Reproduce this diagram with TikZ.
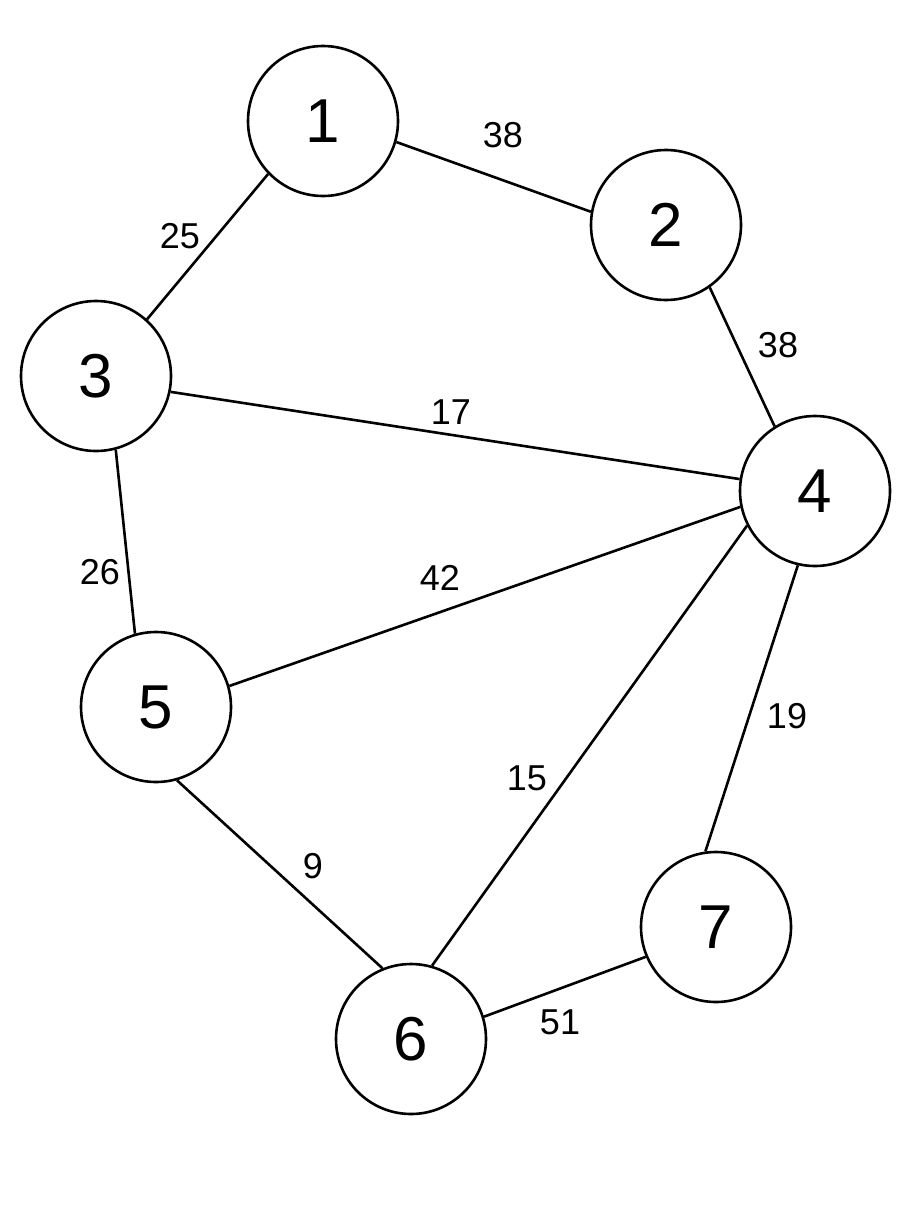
\documentclass[tikz,border=0pt]{standalone}
\usepackage{fontspec}
\setmainfont{Liberation Sans}
\begin{document}
\begin{tikzpicture}[x=1pt,y=-1pt,
  vert/.style={circle,draw,line width=2.6pt,minimum size=150pt,inner sep=0pt,font=\fontsize{62}{62}\selectfont},
  edge/.style={line width=2.6pt},
  wlab/.style={font=\fontsize{36}{36}\selectfont,inner sep=0pt}]
\useasboundingbox (0,0) rectangle (922,1216);
\node[vert] (n1) at (323,121) {1};
\node[vert] (n2) at (666,225) {2};
\node[vert] (n3) at (96,376) {3};
\node[vert] (n4) at (815,491) {4};
\node[vert] (n5) at (156,707) {5};
\node[vert] (n6) at (411,1039) {6};
\node[vert] (n7) at (716,927) {7};
\draw[edge] (n1.-16) -- (n2.170);
\draw[edge] (n1.224) -- (n3.48);
\draw[edge] (n2.-55) -- (n4.122);
\draw[edge] (n3.-12) -- (n4.171);
\draw[edge] (n3.-75) -- (n5.106);
\draw[edge] (n5.16) -- (n4.192);
\draw[edge] (n4.207) -- (n6.74);
\draw[edge] (n4.257) -- (n7.98);
\draw[edge] (n5.-74) -- (n6.112);
\draw[edge] (n6.17) -- (n7.203);
\node[wlab] (w12) at (503,135) {38};
\node[wlab] (w13) at (180,236) {25};
\node[wlab] (w24) at (778,345) {38};
\node[wlab] (w34) at (451,412) {17};
\node[wlab] (w35) at (100,572) {26};
\node[wlab] (w54) at (440,578) {42};
\node[wlab] (w46) at (527,778) {15};
\node[wlab] (w47) at (787,716) {19};
\node[wlab] (w56) at (313,866) {9};
\node[wlab] (w67) at (560,1022) {51};
\end{tikzpicture}
\end{document}
